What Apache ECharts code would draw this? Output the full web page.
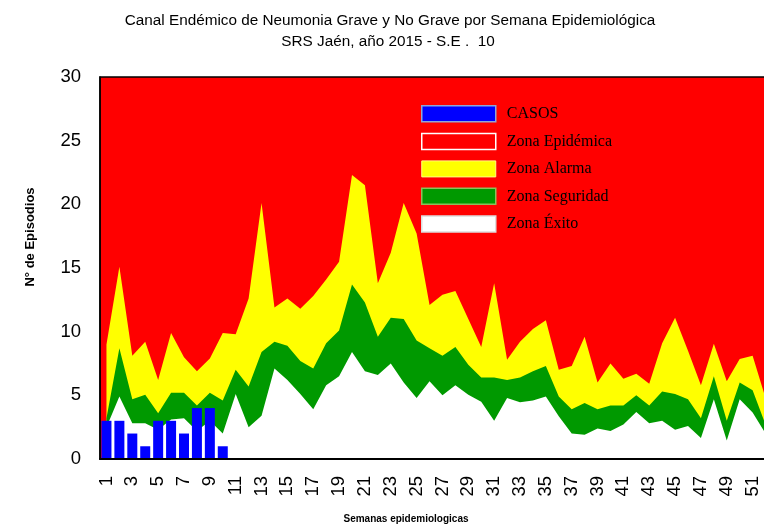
<!DOCTYPE html>
<html><head><meta charset="utf-8">
<script src="https://cdn.jsdelivr.net/npm/echarts@6/dist/echarts.min.js"></script>
<style>html,body{margin:0;padding:0;background:#fff}#c{width:764px;height:524px}</style>
</head><body><div id="c"></div>
<script>
const weeks = ['1','2','3','4','5','6','7','8','9','10','11','12','13','14','15','16','17','18','19','20',
  '21','22','23','24','25','26','27','28','29','30','31','32','33','34','35','36','37','38','39','40',
  '41','42','43','44','45','46','47','48','49','50','51','52'];
const casos = [3,3,2,1,3,3,2,4,4,1];
const zonaAlarma = [9.0,15.1,8.1,9.2,6.2,9.9,8.0,6.9,7.9,9.9,9.8,12.6,20.1,11.9,12.6,11.8,12.8,14.1,15.5,22.3,
  21.5,13.8,16.2,20.1,17.7,12.1,12.9,13.2,11.0,8.8,13.8,7.8,9.2,10.2,10.9,7.0,7.3,9.6,6.0,7.5,
  6.3,6.7,5.9,9.1,11.1,8.5,5.8,9.05,6.1,7.85,8.1,4.8];
const zonaSeguridad = [3.2,8.7,4.7,5.05,3.6,5.2,5.2,4.2,5.2,4.6,7.0,5.7,8.4,9.2,8.9,7.7,7.1,9.1,10.1,13.7,
  12.3,9.6,11.1,11.0,9.3,8.7,8.1,8.8,7.4,6.4,6.4,6.2,6.4,6.9,7.3,4.9,3.9,4.4,3.9,4.2,
  4.2,5.0,4.2,5.3,5.1,4.7,3.2,6.5,3.0,6.0,5.4,2.7];
const zonaExito = [2.5,4.9,2.8,2.8,2.3,3.1,3.2,2.2,3.0,2.0,5.1,2.5,3.4,7.1,6.2,5.1,3.9,5.8,6.5,8.4,
  6.9,6.6,7.5,6.0,4.8,6.1,5.0,5.8,5.05,4.5,3.0,4.8,4.45,4.6,4.9,3.35,2.0,1.9,2.4,2.2,
  2.7,3.7,2.8,3.0,2.3,2.6,1.65,4.7,1.45,4.7,3.65,2.0];
const zonaEpidemica = [];
const titleLines = ['Canal Endémico de Neumonia Grave y No Grave por Semana Epidemiológica', 'SRS Jaén, año 2015 - S.E .  10'];

const SANS = '"Liberation Sans", Arial, sans-serif';
const SERIF = '"Liberation Serif", "Times New Roman", serif';
const chart = echarts.init(document.getElementById('c'), null, {renderer: 'canvas'});

function area(name, data, color, z) {
  return {name, type: 'line', data, symbol: 'none', z, color,
    lineStyle: {width: 0, color}, itemStyle: {color},
    areaStyle: {color, opacity: 1}, animation: false};
}

chart.setOption({
  animation: false,
  grid: {left: 100, top: 77, width: 672, height: 382, show: true, outerBoundsMode: 'none', containLabel: false,
    backgroundColor: '#ff0000', borderColor: '#000', borderWidth: 1.5},
  xAxis: {type: 'category', data: weeks, boundaryGap: true, z: 10,
    axisLine: {show: true, lineStyle: {color: '#000', width: 2}},
    axisTick: {show: false},
    axisLabel: {interval: 1, rotate: 90, margin: 17, color: '#000', fontSize: 18.5, fontFamily: SANS},
    splitLine: {show: false}},
  yAxis: {type: 'value', min: 0, max: 30, interval: 5, z: 10,
    axisLine: {show: true, lineStyle: {color: '#000', width: 1.5}},
    axisTick: {show: false},
    axisLabel: {margin: 19, color: '#000', fontSize: 18.5, fontFamily: SANS},
    splitLine: {show: false}},
  legend: {orient: 'vertical', left: 421, top: 105, padding: 0, icon: 'rect',
    itemWidth: 74, itemHeight: 16, itemGap: 10.2,
    textStyle: {fontFamily: SERIF, fontSize: 16, color: '#000', lineHeight: 16, padding: [0,0,0,6]},
    data: [
      {name: 'CASOS', itemStyle: {color: '#0000ff', borderColor: '#8fa6d6', borderWidth: 1.5}},
      {name: 'Zona Epidémica', itemStyle: {color: '#ff0000', borderColor: '#ffffff', borderWidth: 1.5}},
      {name: 'Zona Alarma', itemStyle: {color: '#ffff00', borderColor: '#ffff80', borderWidth: 1}},
      {name: 'Zona Seguridad', itemStyle: {color: '#009900', borderColor: '#8cbf5a', borderWidth: 1.5}},
      {name: 'Zona Éxito', itemStyle: {color: '#ffffff', borderColor: '#dddddd', borderWidth: 1.5}}
    ]},
  graphic: [
    {type: 'text', x: 390, y: 21, style: {text: titleLines[0], font: '15.3px ' + SANS, fill: '#000',
      textAlign: 'center', textVerticalAlign: 'middle', align: 'center', verticalAlign: 'middle'}},
    {type: 'text', x: 388, y: 42, style: {text: titleLines[1], font: '15.3px ' + SANS, fill: '#000',
      textAlign: 'center', textVerticalAlign: 'middle', align: 'center', verticalAlign: 'middle'}},
    {type: 'text', x: 30, y: 237, rotation: Math.PI / 2, style: {text: 'N° de Episodios', font: 'bold 13px ' + SANS, fill: '#000',
      textAlign: 'center', textVerticalAlign: 'middle', align: 'center', verticalAlign: 'middle'}},
    {type: 'text', x: 406, y: 519, style: {text: 'Semanas epidemiologicas', font: 'bold 10px ' + SANS, fill: '#000',
      textAlign: 'center', textVerticalAlign: 'middle', align: 'center', verticalAlign: 'middle'}}
  ],
  series: [
    {name: 'CASOS', type: 'bar', data: casos, barWidth: 10, z: 6, itemStyle: {color: '#0000ff'}},
    {name: 'Zona Epidémica', type: 'line', data: zonaEpidemica, symbol: 'none', color: '#ff0000',
      itemStyle: {color: '#ff0000'}, lineStyle: {width: 0}},
    area('Zona Alarma', zonaAlarma, '#ffff00', 2),
    area('Zona Seguridad', zonaSeguridad, '#009900', 3),
    area('Zona Éxito', zonaExito, '#ffffff', 4)
  ]
});
</script></body></html>
